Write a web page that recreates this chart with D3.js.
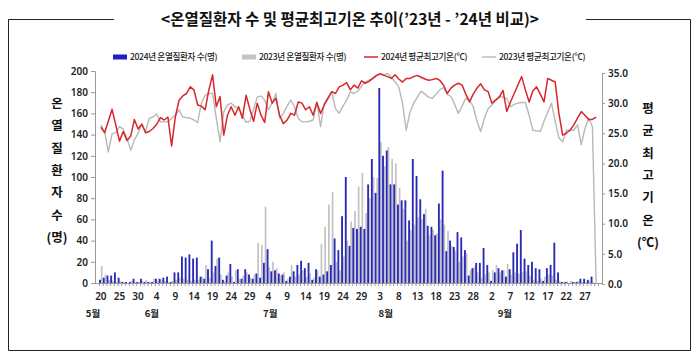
<!DOCTYPE html>
<html><head><meta charset="utf-8">
<script src="https://cdn.jsdelivr.net/npm/d3@7"></script>
<style>
body{margin:0;background:#fff}
svg{display:block}
text{font-family:"Noto Sans CJK KR","Noto Sans",sans-serif}
</style>
</head><body>
<svg id="c" width="699" height="361"></svg>
<script>
// ---------------- DATA ----------------
const startDate = new Date(2024, 4, 20); // May 20
const dayCount = 134;                    // May 20 – Sep 30
const categories = d3.range(dayCount).map(i => d3.timeDay.offset(startDate, i));

const patients2024 = [3,5,7,7,10,5,1,1,1,4,1,4,1,1,1,4,4,5,6,1,10,10,25,24,27,23,24,6,4,13,
  40,16,24,3,7,18,1,13,4,13,8,4,9,5,19,32,11,12,9,8,2,6,11,17,21,14,19,3,13,6,
  8,11,17,42,31,63,100,35,52,51,53,51,93,117,85,184,120,125,93,93,74,78,78,59,117,101,79,65,54,53,
  45,75,106,30,40,34,48,43,31,7,14,19,19,33,17,2,10,14,12,6,13,29,37,50,23,17,20,14,13,2,
  14,17,38,10,1,1,0,1,1,4,4,3,6,0];
const patients2023 = [16,8,3,2,1,2,1,0,2,1,1,2,3,1,4,2,3,2,1,2,3,5,4,3,2,3,3,6,17,5,
  10,23,8,2,10,6,12,4,7,10,5,8,38,36,72,15,20,14,7,10,4,17,6,8,12,6,9,5,12,37,
  53,74,86,20,12,25,40,58,68,91,104,66,80,100,99,133,110,128,117,113,90,70,40,50,55,62,60,70,45,50,
  47,60,55,49,35,30,20,25,28,12,15,10,5,8,10,12,17,10,12,18,8,10,9,10,11,7,3,2,4,6,
  8,7,3,2,1,2,2,1,2,1,1,2,1,0];
const temp2024 = [26.0,25.1,27.0,29.0,26.4,23.7,25.3,23.8,24.5,27.3,25.7,26.5,25.1,25.3,25.8,26.5,27.6,27.2,27.7,22.9,
  27.7,30.5,31.2,31.6,32.7,32.2,29.7,29.5,28.9,32.2,34.7,29.4,31.1,24.7,28.0,29.4,28.0,29.4,27.5,31.3,
  29.0,27.0,30.0,28.0,26.8,31.9,30.0,30.8,28.0,26.6,27.2,28.3,28.0,30.2,30.0,28.9,29.4,28.0,30.1,28.3,
  29.7,30.8,31.9,31.6,32.7,33.0,33.4,32.2,33.0,32.5,33.7,33.3,33.6,34.1,34.6,34.9,34.6,34.4,34.1,34.7,
  34.0,33.5,34.1,34.1,34.4,34.6,34.3,34.0,33.8,33.9,34.1,33.8,33.0,31.6,32.5,33.0,33.3,33.0,31.5,30.2,
  31.5,32.5,33.2,32.2,31.9,30.0,30.5,31.0,32.1,28.6,30.2,31.6,33.0,34.4,32.2,30.2,32.0,32.7,31.5,30.2,
  34.1,33.8,33.5,28.3,24.7,25.0,25.5,26.4,27.5,28.6,28.0,27.3,27.3,27.7];
const temp2023 = [26.4,25.3,21.9,24.9,25.1,26.1,25.7,24.2,22.2,23.9,25.0,26.6,25.3,27.5,27.7,28.2,26.9,26.9,26.9,27.5,
  28.0,28.9,27.7,27.6,27.5,27.2,26.8,30.0,31.3,31.6,31.6,27.5,23.6,28.6,29.7,30.0,29.4,29.2,28.0,26.8,
  27.0,29.0,31.0,31.2,30.5,28.9,30.0,31.6,27.5,28.3,29.5,30.5,29.4,27.5,26.9,26.9,27.0,27.2,30.2,26.1,
  30.0,31.0,31.9,29.1,28.3,29.5,30.5,31.9,31.6,32.0,32.8,33.5,33.8,34.0,34.5,34.8,34.7,34.9,34.3,33.5,
  32.7,30.0,25.5,28.5,30.0,31.0,32.0,31.5,31.0,30.8,31.5,32.2,32.6,31.5,31.1,29.8,28.3,29.5,30.8,30.5,
  29.4,27.0,25.3,27.5,29.1,29.7,30.5,31.1,31.0,30.8,29.4,29.8,30.0,30.1,30.1,28.0,25.5,25.4,25.3,27.0,
  28.5,30.0,27.0,24.2,23.6,25.5,25.5,25.5,26.4,23.1,25.8,27.5,26.1,0];

const leftTicks = [0,20,40,60,80,100,120,140,160,180,200];
const rightTicks = [0,5,10,15,20,25,30,35];
const tickEvery = 5;
const monthLabels = ["5월","6월","7월","8월","9월"];
const monthLabelDays = [-1.6, 14.2, 46, 77, 109];
const leftTitle = ["온","열","질","환","자","수","(명)"];
const rightTitle = ["평","균","최","고","기","온","(℃)"];
const legendItems = [
  {label:"2024년 온열질환자 수(명)", type:"bar", color:"#1f1fc4"},
  {label:"2023년 온열질환자 수(명)", type:"bar", color:"#c4c4c4"},
  {label:"2024년 평균최고기온(℃)", type:"line", color:"#d8262c"},
  {label:"2023년 평균최고기온(℃)", type:"line", color:"#bcbcbc"}
];
const titleText = "<온열질환자 수 및 평균최고기온 추이(’23년 - ’24년 비교)>";

// ---------------- CHART ----------------
const svg = d3.select("#c");
const plotL = 99, plotR = 598, plotT = 71, plotB = 283;

const x = d3.scaleBand().domain(d3.range(dayCount)).range([plotL, plotR]).padding(0);
const xLin = d3.scaleLinear().domain([0, dayCount]).range([plotL, plotR]);
const yL = d3.scaleLinear().domain([0, 200]).range([plotB, plotT]);
const yR = d3.scaleLinear().domain([0, 35]).range([plotB + 1, plotT + 2]);

// Frame + title
const fr = svg.append("g").attr("stroke", "#222").attr("fill", "none").attr("stroke-width", 1);
fr.append("path").attr("d", `M8.5,350.5 L8.5,19.5 L114,19.5`);
fr.append("path").attr("d", `M586,19.5 L690.5,19.5 L690.5,350.5`);
fr.append("path").attr("d", `M8.5,350.5 L690.5,350.5`);
svg.append("text").attr("x", 350).attr("y", 25).attr("text-anchor", "middle")
  .attr("font-size", 15.5).attr("font-weight", 600).attr("fill", "#111").text(titleText);

// Legend
const lg = svg.append("g").attr("font-size", 8.6).attr("font-weight", 500).attr("fill", "#1a1a1a");
const legX = [113, 242, 364, 482];
legendItems.forEach((d, i) => {
  const g = lg.append("g").attr("transform", `translate(${legX[i]},57)`);
  if (d.type === "bar") g.append("rect").attr("x", 0).attr("y", -2.5).attr("width", 14).attr("height", 5).attr("fill", d.color);
  else g.append("line").attr("x1", 0).attr("x2", 14).attr("y1", 0).attr("y2", 0).attr("stroke", d.color).attr("stroke-width", 1.5);
  g.append("text").attr("x", 17).attr("y", 3).attr("letter-spacing", -0.35).text(d.label);
});

// Bars
const bw = x.bandwidth();
svg.append("g").selectAll("rect").data(patients2023).join("rect")
  .attr("x", (d, i) => x(i) + bw * 0.5).attr("width", bw * 0.45)
  .attr("y", d => yL(d)).attr("height", d => plotB - yL(d))
  .attr("fill", "#c2c2c2");
svg.append("g").selectAll("rect").data(patients2024).join("rect")
  .attr("x", (d, i) => x(i) + bw * 0.02).attr("width", bw * 0.5)
  .attr("y", d => yL(d)).attr("height", d => plotB - yL(d))
  .attr("fill", "#2a2ab8");

// Lines
const lineGen = d3.line().x((d, i) => x(i) + bw / 2).y(d => yR(d));
svg.append("path").datum(temp2023).attr("d", lineGen).attr("fill", "none")
  .attr("stroke", "#b8b8b8").attr("stroke-width", 1.4).attr("stroke-linejoin", "round");
svg.append("path").datum(temp2024).attr("d", lineGen).attr("fill", "none")
  .attr("stroke", "#d8262c").attr("stroke-width", 1.5).attr("stroke-linejoin", "round");

// Left axis
const axL = svg.append("g").attr("transform", `translate(95,0)`)
  .call(d3.axisLeft(yL).tickValues(leftTicks).tickSize(4).tickPadding(3));
axL.select(".domain").attr("stroke", "#999");
axL.selectAll(".tick line").attr("stroke", "#999");
axL.selectAll("text").attr("font-size", 10).attr("font-weight", 600).attr("fill", "#222")
  .style("font-family", '"Noto Sans","Noto Sans CJK KR",sans-serif');

// Right axis
const axR = svg.append("g").attr("transform", `translate(602,0)`)
  .call(d3.axisRight(yR).tickValues(rightTicks).tickSize(3).tickPadding(3).tickFormat(d3.format(".1f")));
axR.select(".domain").attr("stroke", "#999");
axR.selectAll(".tick line").attr("stroke", "#999");
axR.selectAll("text").attr("font-size", 10).attr("font-weight", 600).attr("fill", "#222")
  .style("font-family", '"Noto Sans","Noto Sans CJK KR",sans-serif');

// Bottom axis (category boundaries)
const axB = svg.append("g").attr("transform", `translate(0,${plotB})`)
  .call(d3.axisBottom(xLin).tickValues(d3.range(dayCount + 1)).tickSize(3).tickFormat(""));
axB.select(".domain").attr("stroke", "#999").attr("d", `M95,0.5H602`);
axB.selectAll(".tick line").attr("stroke", "#999");

// Day labels
const labelDays = d3.range(0, dayCount, tickEvery);
svg.append("g").selectAll("text").data(labelDays).join("text")
  .attr("x", d => x(d) + bw / 2).attr("y", 300).attr("text-anchor", "middle")
  .attr("font-size", 10).attr("font-weight", 600).attr("fill", "#222")
  .style("font-family", '"Noto Sans","Noto Sans CJK KR",sans-serif')
  .text(d => categories[d].getDate());

// Month labels
svg.append("g").selectAll("text").data(monthLabels).join("text")
  .attr("x", (d, i) => xLin(monthLabelDays[i])).attr("y", 317).attr("text-anchor", "middle")
  .attr("font-size", 9.5).attr("font-weight", 700).attr("fill", "#222").text(d => d);

// Axis titles
svg.append("g").selectAll("text").data(leftTitle).join("text")
  .attr("x", 57).attr("y", (d, i) => 108 + i * 22.3).attr("text-anchor", "middle")
  .attr("font-size", 12.5).attr("font-weight", 700).attr("fill", "#111").text(d => d);
svg.append("g").selectAll("text").data(rightTitle).join("text")
  .attr("x", 648).attr("y", (d, i) => 113 + i * 22.3).attr("text-anchor", "middle")
  .attr("font-size", 12.5).attr("font-weight", 700).attr("fill", "#111").text(d => d);
</script>
</body></html>
